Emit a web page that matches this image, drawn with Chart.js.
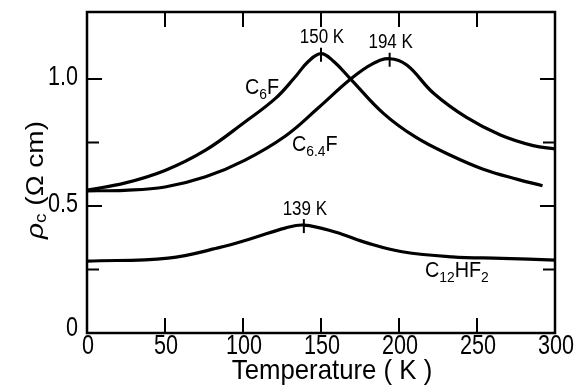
<!DOCTYPE html>
<html>
<head>
<meta charset="utf-8">
<script src="https://cdn.jsdelivr.net/npm/chart.js@4.4.0/dist/chart.umd.min.js"></script>
<style>
  html, body { margin: 0; padding: 0; background: #fff; }
  #wrap { width: 581px; height: 391px; }
</style>
</head>
<body>
<div id="wrap"><canvas id="c" width="581" height="391"></canvas></div>
<script>
// values (T in K, rho_c in ohm cm)
var tempC6F = [0, 24, 50, 76, 101, 121, 133, 142, 150, 158, 169, 190, 211, 233, 254, 276, 292];
var rhoC6F = [0.563, 0.59, 0.64, 0.72, 0.83, 0.925, 1.005, 1.07, 1.10, 1.07, 1.00, 0.865, 0.77, 0.70, 0.645, 0.605, 0.58];

var tempC64F = [0, 24, 50, 76, 101, 127, 148, 169, 183, 194, 205, 222, 243, 265, 286, 300];
var rhoC64F = [0.56, 0.562, 0.575, 0.615, 0.68, 0.775, 0.885, 1.00, 1.06, 1.08, 1.055, 0.945, 0.85, 0.78, 0.738, 0.725];

var tempC12 = [0, 52, 84, 106, 127, 139, 159, 180, 202, 234, 266, 300];
var rhoC12 = [0.283, 0.295, 0.335, 0.373, 0.413, 0.425, 0.398, 0.354, 0.32, 0.30, 0.294, 0.287];

// peak markers
var peakT = [150, 194, 139];
var peakRho = [1.10, 1.08, 0.425];
var peakText = ['150 K', '194 K', '139 K'];

var xTicks = [0, 50, 100, 150, 200, 250, 300];
var yTicks = [0, 0.25, 0.5, 0.75, 1.0];
var yTickLabels = { 0: '0', 0.5: '0.5', 1: '1.0' };

function pts(xs, ys) {
    return xs.map(function(x, i) { return { x: x, y: ys[i] }; });
}

var FONT = '"Liberation Sans", Arial, sans-serif';

// draw text squeezed horizontally, like the narrow lettering of the original
function txt(ctx, s, x, y, size, align, sx) {
    ctx.save();
    ctx.font = size + 'px ' + FONT;
    ctx.textBaseline = 'middle';
    ctx.textAlign = align || 'center';
    ctx.translate(x, y);
    ctx.scale(sx || 0.8, 1);
    ctx.fillText(s, 0, 0);
    ctx.restore();
}

// formula like C6F with a subscript part
function formula(ctx, parts, x, y, size) {
    ctx.save();
    ctx.translate(x, y);
    ctx.scale(0.9, 1);
    ctx.textBaseline = 'middle';
    ctx.textAlign = 'left';
    var cx = 0;
    parts.forEach(function(p) {
        var s = p[1] ? size * 0.7 : size;
        ctx.font = s + 'px ' + FONT;
        ctx.fillText(p[0], cx, p[1] ? size * 0.3 : 0);
        cx += ctx.measureText(p[0]).width;
    });
    ctx.restore();
}

var decor = {
    id: 'decor',
    afterDatasetsDraw: function(chart) {
        var ctx = chart.ctx;
        var a = chart.chartArea;
        var xs = chart.scales.x, ys = chart.scales.y;
        ctx.save();
        ctx.strokeStyle = '#000';
        ctx.fillStyle = '#000';
        ctx.lineWidth = 2.5;
        ctx.strokeRect(a.left, a.top, a.right - a.left, a.bottom - a.top);

        // inward ticks, all four sides
        ctx.lineWidth = 2;
        ctx.beginPath();
        xTicks.forEach(function(t) {
            var px = xs.getPixelForValue(t);
            ctx.moveTo(px, a.bottom); ctx.lineTo(px, a.bottom - 15);
            ctx.moveTo(px, a.top); ctx.lineTo(px, a.top + 15);
        });
        yTicks.forEach(function(v) {
            var py = ys.getPixelForValue(v);
            var len = (v === 0.5 || v === 1) ? 15 : 12;
            ctx.moveTo(a.left, py); ctx.lineTo(a.left + len, py);
            ctx.moveTo(a.right, py); ctx.lineTo(a.right - len, py);
        });
        ctx.stroke();

        // tick labels
        xTicks.forEach(function(t) {
            txt(ctx, String(t), xs.getPixelForValue(t) + 1, a.bottom + 14, 27);
        });
        yTicks.forEach(function(v) {
            if (yTickLabels[v] === undefined) return;
            var py = ys.getPixelForValue(v);
            txt(ctx, yTickLabels[v], a.left - 9, v === 0 ? py - 4 : py - 1, 27, 'right');
        });

        // axis titles
        txt(ctx, 'Temperature ( K )', 332, a.bottom + 38, 28, 'center', 0.92);
        ctx.save();
        ctx.translate(36, 180);
        ctx.rotate(-Math.PI / 2);
        ctx.scale(1, 0.85);
        ctx.textBaseline = 'middle';
        ctx.textAlign = 'left';
        ctx.font = 'italic 28px ' + FONT;
        var w1 = ctx.measureText('\u03c1').width;
        ctx.font = '19px ' + FONT;
        var w2 = ctx.measureText('c').width;
        ctx.font = '28px ' + FONT;
        var w3 = ctx.measureText(' (\u03a9 cm)').width;
        var x0 = -(w1 + w2 + w3) / 2;
        ctx.font = 'italic 28px ' + FONT;
        ctx.fillText('\u03c1', x0, 0);
        ctx.font = '19px ' + FONT;
        ctx.fillText('c', x0 + w1, 6);
        ctx.font = '28px ' + FONT;
        ctx.fillText(' (\u03a9 cm)', x0 + w1 + w2, 0);
        ctx.restore();

        // peak marks and labels
        ctx.lineWidth = 2;
        peakT.forEach(function(t, i) {
            var px = xs.getPixelForValue(t);
            var py = ys.getPixelForValue(peakRho[i]);
            ctx.beginPath();
            ctx.moveTo(px, py - 6); ctx.lineTo(px, py + 8);
            ctx.stroke();
            txt(ctx, peakText[i], px + 1, py - 16, 20, 'center', 0.85);
        });

        // curve labels
        formula(ctx, [['C', 0], ['6', 1], ['F', 0]], 245, 88, 22);
        formula(ctx, [['C', 0], ['6.4', 1], ['F', 0]], 292, 145, 22);
        formula(ctx, [['C', 0], ['12', 1], ['HF', 0], ['2', 1]], 425, 271, 22);
        ctx.restore();
    }
};

function line(xs, ys) {
    return {
        data: pts(xs, ys),
        borderColor: '#000',
        borderWidth: 3.2,
        pointRadius: 0,
        fill: false,
        tension: 0.4
    };
}

new Chart(document.getElementById('c'), {
    type: 'line',
    data: {
        datasets: [line(tempC6F, rhoC6F), line(tempC64F, rhoC64F), line(tempC12, rhoC12)]
    },
    options: {
        responsive: false,
        animation: false,
        layout: { padding: { left: 87, right: 26, top: 12, bottom: 58 } },
        plugins: { legend: { display: false }, tooltip: { enabled: false } },
        scales: {
            x: { type: 'linear', min: 0, max: 300, display: false },
            y: { type: 'linear', min: 0, max: 1.264, display: false }
        }
    },
    plugins: [decor]
});
</script>
</body>
</html>
